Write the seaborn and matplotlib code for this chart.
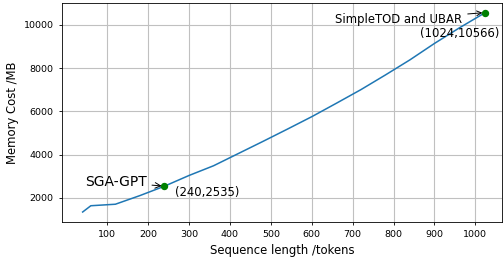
import matplotlib
matplotlib.use("Agg")
import matplotlib.pyplot as plt
import seaborn as sns
import pandas as pd

# sequence length vs memory cost
seq_len = [40, 60, 120, 180, 240, 300, 360, 420, 480, 540, 600, 660, 720, 780, 840, 900, 960, 1024]
memory_mb = [1340, 1630, 1700, 2100, 2535, 3030, 3480, 4040, 4600, 5170, 5750, 6370, 7000, 7680, 8380, 9140, 9850, 10566]

sga_point = (240, 2535)
ubar_point = (1024, 10566)

df = pd.DataFrame({'len': seq_len, 'mem': memory_mb})

fig = plt.figure(figsize=(5.03, 2.63), dpi=100)
ax = fig.add_axes([0.123, 0.156, 0.875, 0.833])

sns.lineplot(data=df, x='len', y='mem', ax=ax, color='#1f77b4', linewidth=1.1)
ax.plot([sga_point[0], ubar_point[0]], [sga_point[1], ubar_point[1]], 'o',
        color='green', markersize=4.3, zorder=5)

ax.annotate('SGA-GPT', xy=sga_point, xytext=(45, 2535), fontsize=10,
            arrowprops=dict(arrowstyle='->', lw=0.7))
ax.text(265, 2100, '(240,2535)', fontsize=8.4)
ax.annotate('SimpleTOD and UBAR', xy=ubar_point, xytext=(657, 10090), fontsize=8.4,
            arrowprops=dict(arrowstyle='->', lw=0.7))
ax.text(864, 9416, '(1024,10566)', fontsize=8.4)

ax.set_xlim(-10.8, 1065)
ax.set_ylim(879, 11015)
ax.set_xticks(range(100, 1100, 100))
ax.set_yticks(range(2000, 12000, 2000))
ax.grid(True, color='#c0c0c0', linewidth=0.8)
ax.tick_params(labelsize=6.8, length=2.5, width=0.6)
for s in ax.spines.values():
    s.set_linewidth(0.6)

ax.set_xlabel('Sequence length /tokens', fontsize=8.4, labelpad=3.5)
ax.set_ylabel('Memory Cost /MB', fontsize=8.4, labelpad=3)

fig.savefig('out.png', dpi=100)
